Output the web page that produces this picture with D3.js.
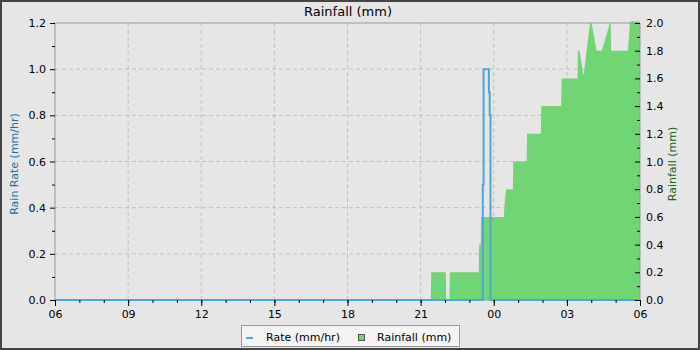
<!DOCTYPE html>
<html>
<head>
<meta charset="utf-8">
<script src="https://cdn.jsdelivr.net/npm/d3@7"></script>
<style>
  html, body { margin: 0; padding: 0; background: #e6e6e6; }
  svg { display: block; font-family: "DejaVu Sans", sans-serif; }
</style>
</head>
<body>
<div id="chart"></div>
<script>
// x range of the chart (24 hours)
const xStart = "2024-05-01 06:00";
const xEnd = "2024-05-02 06:00";

// rain rate (mm/hr), left axis
const rateTimes = ["2024-05-01 06:00", "2024-05-01 23:33", "2024-05-01 23:35", "2024-05-01 23:48",
    "2024-05-01 23:50", "2024-05-01 23:52", "2024-05-02 06:00"];
const rateValues = [0, 0.5, 1.0, 0.9, 0.8, 0, 0];

// rainfall (mm), right axis
const rainTimes = ["2024-05-01 06:00", "2024-05-01 21:25", "2024-05-01 21:26", "2024-05-01 22:02",
    "2024-05-01 22:03", "2024-05-01 22:11", "2024-05-01 22:12", "2024-05-01 23:23", "2024-05-01 23:24",
    "2024-05-01 23:28", "2024-05-01 23:29", "2024-05-02 00:25", "2024-05-02 00:26", "2024-05-02 00:28",
    "2024-05-02 00:31", "2024-05-02 00:47", "2024-05-02 00:48", "2024-05-02 01:21", "2024-05-02 01:22",
    "2024-05-02 01:56", "2024-05-02 01:57", "2024-05-02 02:46", "2024-05-02 02:47", "2024-05-02 03:26",
    "2024-05-02 03:27", "2024-05-02 03:31", "2024-05-02 03:41", "2024-05-02 03:57", "2024-05-02 04:01",
    "2024-05-02 04:13", "2024-05-02 04:26", "2024-05-02 04:46", "2024-05-02 04:48", "2024-05-02 04:49",
    "2024-05-02 05:30", "2024-05-02 05:33", "2024-05-02 05:35", "2024-05-02 06:00"];
const rainValues = [0, 0, 0.2, 0.2,
    0, 0, 0.2, 0.2, 0.4,
    0.4, 0.6, 0.6, 0.66, 0.75,
    0.8, 0.8, 1.0, 1.0, 1.2,
    1.2, 1.4, 1.4, 1.6, 1.6,
    1.8, 1.8, 1.62, 2.0, 2.0,
    1.8, 1.8, 2.0, 2.0, 1.8,
    1.8, 1.9, 2.01, 2.01];

const leftTicks = [0, 0.2, 0.4, 0.6, 0.8, 1.0, 1.2];
const rightTicks = [0, 0.2, 0.4, 0.6, 0.8, 1.0, 1.2, 1.4, 1.6, 1.8, 2.0];

const W = 700, H = 350;
const plot = {left: 55, right: 640, top: 23, bottom: 300};

const parse = d3.timeParse("%Y-%m-%d %H:%M");
const rate = rateTimes.map((t, i) => ({t: parse(t), v: rateValues[i]}));
const rain = rainTimes.map((t, i) => ({t: parse(t), v: rainValues[i]}));

const svg = d3.select("#chart").append("svg")
    .attr("width", W)
    .attr("height", H);

svg.append("rect")
    .attr("x", 1).attr("y", 1)
    .attr("width", W - 2).attr("height", H - 2)
    .attr("fill", "#e6e6e6")
    .attr("stroke", "#444")
    .attr("stroke-width", 2);

const x = d3.scaleTime()
    .domain([parse(xStart), parse(xEnd)])
    .range([plot.left, plot.right]);
const yL = d3.scaleLinear().domain([0, 1.2]).range([plot.bottom, plot.top]);
const yR = d3.scaleLinear().domain([0, 2.0]).range([plot.bottom, plot.top]);

// grid
const majorX = d3.timeHour.every(3).range(parse(xStart), d3.timeMinute.offset(parse(xEnd), 1));
svg.append("g").selectAll("line")
    .data(majorX.slice(1, -1))
    .join("line")
    .attr("x1", d => x(d)).attr("x2", d => x(d))
    .attr("y1", plot.top).attr("y2", plot.bottom)
    .attr("stroke", "#c0c0c0").attr("stroke-dasharray", "4,3");
svg.append("g").selectAll("line")
    .data(leftTicks.slice(1, -1))
    .join("line")
    .attr("x1", plot.left).attr("x2", plot.right)
    .attr("y1", d => yL(d)).attr("y2", d => yL(d))
    .attr("stroke", "#c0c0c0").attr("stroke-dasharray", "4,3");

// rainfall area
svg.append("path")
    .datum(rain)
    .attr("fill", "#6fd673")
    .attr("d", d3.area().x(d => x(d.t)).y0(plot.bottom).y1(d => yR(d.v)));

// plot frame
svg.append("path")
    .attr("d", `M${plot.left},${plot.bottom}V${plot.top}H${plot.right}V${plot.bottom}`)
    .attr("fill", "none")
    .attr("stroke", "#999");
svg.append("line")
    .attr("x1", plot.left).attr("x2", plot.right)
    .attr("y1", plot.bottom).attr("y2", plot.bottom)
    .attr("stroke", "#999");

// rate line
svg.append("path")
    .datum(rate)
    .attr("fill", "none")
    .attr("stroke", "#4ba6dc")
    .attr("stroke-width", 2)
    .attr("d", d3.line().curve(d3.curveStepAfter).x(d => x(d.t)).y(d => yL(d.v)));

// axes
const fmtHour = d3.timeFormat("%H");
svg.append("g")
    .attr("transform", `translate(0,${plot.bottom})`)
    .call(d3.axisBottom(x).tickValues(majorX).tickFormat(fmtHour).tickSize(6).tickPadding(4));
svg.append("g")
    .attr("transform", `translate(0,${plot.bottom})`)
    .call(d3.axisBottom(x).ticks(d3.timeHour.every(1)).tickFormat("").tickSize(3));

svg.append("g")
    .attr("transform", `translate(${plot.left},0)`)
    .call(d3.axisLeft(yL).tickValues(leftTicks).tickFormat(d3.format(".1f")).tickSize(5).tickPadding(4));
svg.append("g")
    .attr("transform", `translate(${plot.left},0)`)
    .call(d3.axisLeft(yL).tickValues(d3.range(0.1, 1.2, 0.2)).tickFormat("").tickSize(3));

svg.append("g")
    .attr("transform", `translate(${plot.right},0)`)
    .call(d3.axisRight(yR).tickValues(rightTicks).tickFormat(d3.format(".1f")).tickSizeInner(-5).tickSizeOuter(0).tickPadding(6));
svg.append("g")
    .attr("transform", `translate(${plot.right},0)`)
    .call(d3.axisRight(yR).tickValues(d3.range(0.1, 2.0, 0.2)).tickFormat("").tickSizeInner(-3).tickSizeOuter(0));

svg.selectAll(".domain").remove();
svg.selectAll(".tick line").attr("stroke", "#000");
svg.selectAll(".tick text")
    .attr("fill", "#000")
    .style("font-size", "11px")
    .style("font-family", "DejaVu Sans, sans-serif");

// titles
svg.append("text")
    .attr("x", 348).attr("y", 16)
    .attr("text-anchor", "middle")
    .style("font-size", "13px")
    .text("Rainfall (mm)");

svg.append("text")
    .attr("transform", "translate(18,164) rotate(-90)")
    .attr("text-anchor", "middle")
    .attr("fill", "#1f6e9e")
    .style("font-size", "11px")
    .text("Rain Rate (mm/hr)");

svg.append("text")
    .attr("transform", "translate(676,164) rotate(-90)")
    .attr("text-anchor", "middle")
    .attr("fill", "#1d5e1d")
    .style("font-size", "11px")
    .text("Rainfall (mm)");

// legend
const legend = svg.append("g");
legend.append("rect")
    .attr("x", 241.5).attr("y", 325.5)
    .attr("width", 218).attr("height", 21)
    .attr("fill", "#f4f4f4")
    .attr("stroke", "#999");
legend.append("line")
    .attr("x1", 246).attr("x2", 253)
    .attr("y1", 338).attr("y2", 338)
    .attr("stroke", "#4ba6dc").attr("stroke-width", 2);
legend.append("text")
    .attr("x", 266).attr("y", 341)
    .style("font-size", "11px")
    .text("Rate (mm/hr)");
legend.append("rect")
    .attr("x", 358.5).attr("y", 334.5)
    .attr("width", 6).attr("height", 6)
    .attr("fill", "#6fd673")
    .attr("stroke", "#555");
legend.append("text")
    .attr("x", 377).attr("y", 341)
    .style("font-size", "11px")
    .text("Rainfall (mm)");
</script>
</body>
</html>
